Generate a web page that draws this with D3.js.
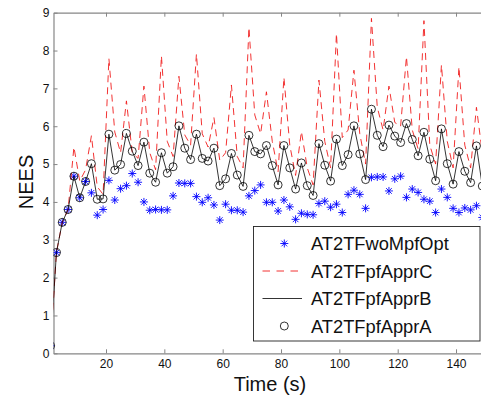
<!DOCTYPE html>
<html>
<head>
<meta charset="utf-8">
<script src="https://cdn.jsdelivr.net/npm/d3@7"></script>
<style>
  body { margin: 0; background: #fff; }
  svg { display: block; font-family: "Liberation Sans", Arial, Helvetica, sans-serif; }
</style>
</head>
<body>
<div id="chart"></div>
<script>
// time steps (s)
const times = d3.range(1, 151, 2);

// NEES per filter variant
const apprA = [0.2, 2.66, 3.46, 3.80, 4.68, 4.11, 4.54, 5.01, 4.07, 4.08,
  5.79, 4.84, 4.99, 5.81, 5.34, 4.96, 5.58, 4.76, 4.52, 5.30,
  4.76, 4.93, 6.01, 5.42, 5.12, 5.79, 5.15, 5.08, 5.42, 4.43,
  4.61, 5.28, 4.71, 4.41, 5.76, 5.33, 5.27, 5.49, 4.96, 4.45,
  5.49, 4.90, 4.34, 5.03, 4.43, 4.17, 5.54, 4.97, 4.55, 5.66,
  4.96, 5.25, 6.01, 5.27, 4.59, 6.45, 5.76, 5.46, 6.03, 5.74,
  5.57, 6.07, 5.65, 5.22, 5.84, 5.13, 4.56, 5.93, 5.01, 4.47,
  5.33, 4.81, 4.51, 5.48, 4.42];
const apprB = apprA.slice();
const apprC = [0.2, 2.66, 3.46, 3.80, 5.45, 4.55, 4.85, 5.75, 4.40, 4.20,
  7.79, 5.85, 5.30, 6.67, 5.30, 5.15, 7.06, 5.30, 4.85, 7.86,
  5.60, 5.20, 7.32, 5.77, 5.50, 7.91, 5.80, 5.45, 6.23, 5.10,
  5.30, 7.09, 5.20, 4.90, 8.61, 6.30, 5.80, 6.91, 5.60, 4.80,
  7.29, 5.50, 4.70, 5.86, 4.90, 4.45, 7.22, 5.60, 4.90, 8.45,
  5.70, 5.90, 7.48, 5.80, 5.00, 8.85, 6.50, 5.90, 7.06, 6.10,
  6.00, 7.84, 5.90, 5.40, 8.79, 5.50, 5.00, 7.62, 5.60, 4.90,
  7.57, 5.50, 4.90, 6.50, 5.30];
const woMpfOpt = [0.2, 2.66, 3.46, 3.80, 4.68, 4.11, 4.54, 4.24, 3.65, 3.80,
  4.57, 4.05, 4.35, 4.43, 4.75, 4.52, 4.00, 3.78, 3.80, 3.79,
  3.79, 4.16, 4.50, 4.49, 4.49, 4.14, 3.99, 4.11, 3.92, 3.52,
  3.94, 3.78, 3.78, 3.73, 4.16, 4.30, 4.45, 3.99, 3.99, 3.76,
  4.05, 3.87, 3.54, 3.70, 3.67, 3.66, 3.96, 4.02, 3.86, 3.94,
  3.72, 4.20, 4.31, 4.20, 3.83, 4.65, 4.66, 4.66, 4.29, 4.61,
  4.68, 4.12, 4.34, 4.25, 4.07, 4.02, 3.72, 4.34, 4.12, 3.83,
  3.72, 3.84, 3.79, 3.90, 3.59];

const xTicks = [20, 40, 60, 80, 100, 120, 140];
const yTicks = [0, 1, 2, 3, 4, 5, 6, 7, 8, 9];
const legendNames = ["AT2TFwoMpfOpt", "AT2TFpfApprC", "AT2TFpfApprB", "AT2TFpfApprA"];

const W = 481, H = 398;
const plot = {left: 53.5, right: 485.2, top: 12.7, bottom: 353.3};

const svg = d3.select("#chart").append("svg")
  .attr("width", W).attr("height", H);

svg.append("rect").attr("width", W).attr("height", H).attr("fill", "#fff");

const x = d3.scaleLinear().domain([2, 150]).range([plot.left, plot.right]);
const y = d3.scaleLinear().domain([0, 9]).range([plot.bottom, plot.top]);

svg.append("clipPath").attr("id", "clip")
  .append("rect")
  .attr("x", plot.left).attr("y", plot.top)
  .attr("width", plot.right - plot.left).attr("height", plot.bottom - plot.top);

// axes (matlab style box, ticks inward)
const axisColor = "#868686";
const gx = svg.append("g").attr("transform", `translate(0,${plot.bottom})`)
  .call(d3.axisBottom(x).tickValues(xTicks).tickSizeInner(-4).tickSizeOuter(0).tickPadding(6));
const gxt = svg.append("g").attr("transform", `translate(0,${plot.top})`)
  .call(d3.axisTop(x).tickValues(xTicks).tickSizeInner(-4).tickSizeOuter(0).tickFormat(""));
const gy = svg.append("g").attr("transform", `translate(${plot.left},0)`)
  .call(d3.axisLeft(y).tickValues(yTicks).tickSizeInner(-4).tickSizeOuter(0).tickPadding(4));

[gx, gxt, gy].forEach(g => {
  g.select(".domain").attr("stroke", axisColor).attr("stroke-width", 1.2);
  g.selectAll(".tick line").attr("stroke", axisColor);
  g.selectAll("text").attr("fill", "#111").style("font-size", "12px")
    .style("font-family", '"Liberation Sans", Arial, sans-serif');
});

const data = times.map((t, i) => ({t, a: apprA[i], b: apprB[i], c: apprC[i], w: woMpfOpt[i]}));

const plotG = svg.append("g").attr("clip-path", "url(#clip)");

// stars for wo-MPF variant
function starPath(s) {
  const d = s * Math.SQRT1_2;
  return `M${-s},0L${s},0M0,${-s}L0,${s}M${-d},${-d}L${d},${d}M${-d},${d}L${d},${-d}`;
}
plotG.append("g").selectAll("path").data(data).join("path")
  .attr("transform", d => `translate(${x(d.t)},${y(d.w)})`)
  .attr("d", starPath(4))
  .attr("stroke", "#0000ff").attr("stroke-width", 0.9).attr("fill", "none");

plotG.append("path").datum(data)
  .attr("d", d3.line().x(d => x(d.t)).y(d => y(d.c)))
  .attr("fill", "none").attr("stroke", "#f01c1c").attr("stroke-width", 0.9)
  .attr("stroke-dasharray", "7,5");

plotG.append("path").datum(data)
  .attr("d", d3.line().x(d => x(d.t)).y(d => y(d.b)))
  .attr("fill", "none").attr("stroke", "#000").attr("stroke-width", 0.8);

plotG.append("g").selectAll("circle").data(data).join("circle")
  .attr("cx", d => x(d.t)).attr("cy", d => y(d.a)).attr("r", 4)
  .attr("fill", "none").attr("stroke", "#000").attr("stroke-width", 0.8);

// axis titles
svg.append("text").attr("x", 270).attr("y", 391).attr("text-anchor", "middle")
  .style("font-size", "20px").attr("fill", "#111").text("Time (s)");
svg.append("text").attr("transform", "translate(33,182) rotate(-90)")
  .attr("text-anchor", "middle").style("font-size", "20px").attr("fill", "#111").text("NEES");

// legend
const lg = svg.append("g");
lg.append("rect").attr("x", 253.5).attr("y", 226.5).attr("width", 226.5).attr("height", 114.5)
  .attr("fill", "#fff").attr("stroke", "#222").attr("stroke-width", 0.9);
const rowY = i => 243.5 + i * 27.5;
legendNames.forEach((name, i) => {
  const cy = rowY(i);
  if (i === 0) {
    lg.append("path").attr("transform", `translate(284.3,${cy})`).attr("d", starPath(4))
      .attr("stroke", "#0000ff").attr("stroke-width", 0.9);
  } else if (i === 1) {
    lg.append("line").attr("x1", 262.5).attr("x2", 302).attr("y1", cy).attr("y2", cy)
      .attr("stroke", "#f01c1c").attr("stroke-width", 0.9).attr("stroke-dasharray", "7.5,6.5");
  } else if (i === 2) {
    lg.append("line").attr("x1", 262.5).attr("x2", 302).attr("y1", cy).attr("y2", cy)
      .attr("stroke", "#000").attr("stroke-width", 0.8);
  } else {
    lg.append("circle").attr("cx", 284.3).attr("cy", cy).attr("r", 4)
      .attr("fill", "none").attr("stroke", "#000").attr("stroke-width", 0.8);
  }
  lg.append("text").attr("x", 311).attr("y", cy + 6.5)
    .style("font-size", "18.3px").attr("fill", "#111").text(name);
});
</script>
</body>
</html>
